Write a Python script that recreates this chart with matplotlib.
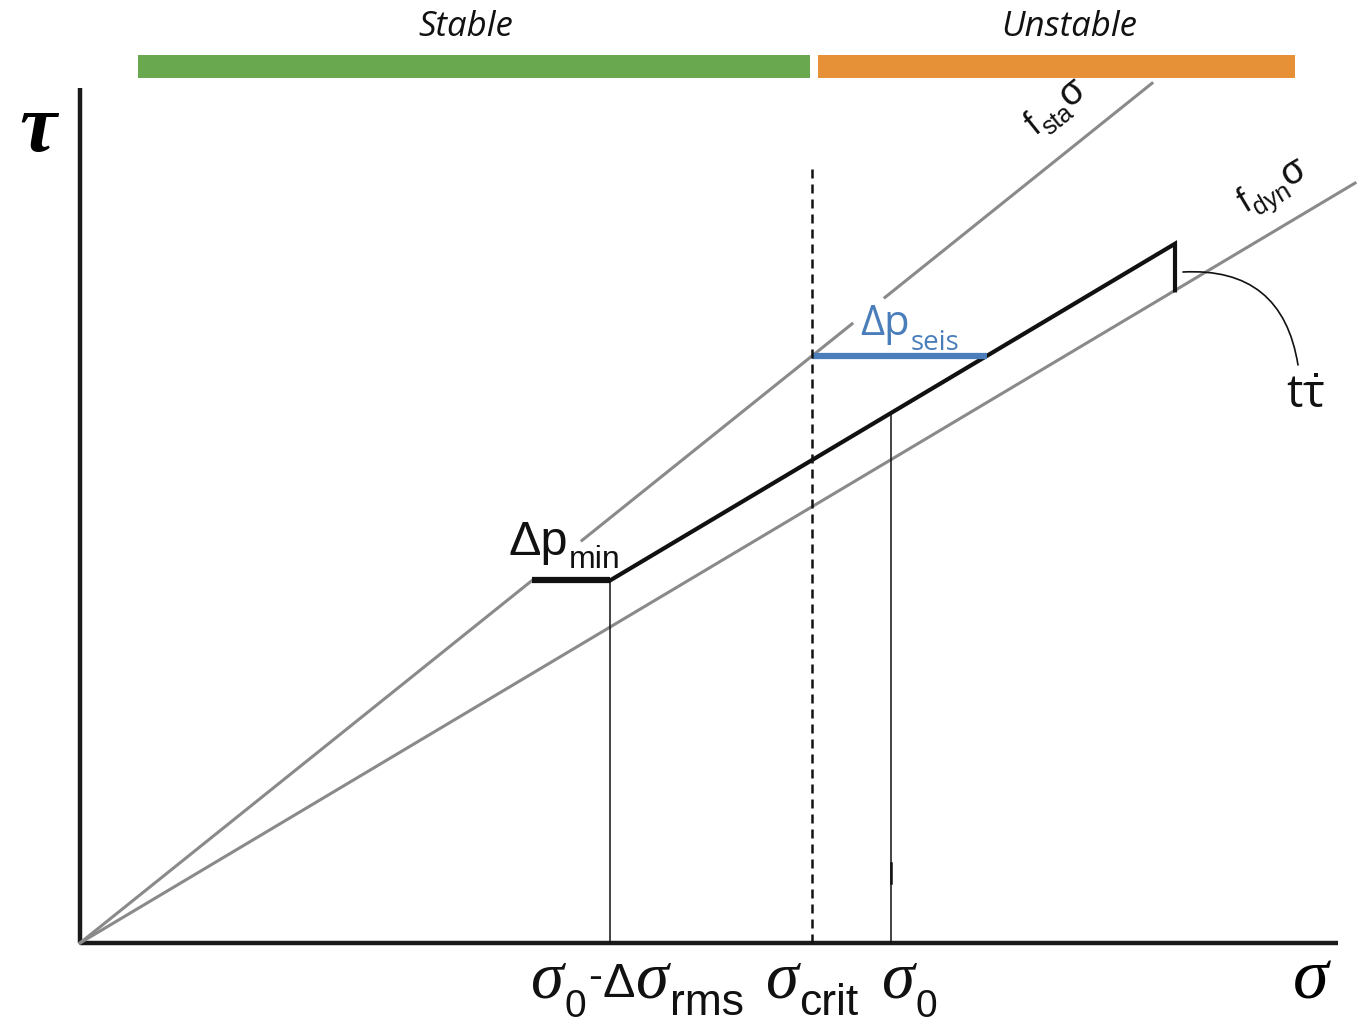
import numpy as np
import matplotlib
matplotlib.use("Agg")
import matplotlib.pyplot as plt
from matplotlib.transforms import offset_copy

plt.rcParams['mathtext.fontset'] = 'custom'
plt.rcParams['mathtext.rm'] = 'Liberation Sans'
plt.rcParams['mathtext.it'] = 'Liberation Serif:italic'
plt.rcParams['mathtext.sf'] = 'Open Sans'

# friction coefficients (slopes of the two failure envelopes)
f_sta = 0.802
f_dyn = 0.596

# stress values (arbitrary units)
sigma_0 = 8.11
d_sigma_rms = 2.81
sigma_crit = 7.32
tau_0 = 5.30          # shear stress on the loading path at sigma_0
sigma_end = 10.95     # end of the loading path

# visible pieces of the static envelope (gaps leave room for labels)
sta_pieces = [(0.0, 4.52), (5.02, 7.72), (8.05, 10.72)]
dyn_end = 12.75

# stability bands along the top
band_names = ['Stable', 'Unstable']
band_starts = [0.58, 7.38]
band_ends = [7.30, 12.15]
band_label_x = [3.86, 9.89]
band_colors = ['#6aa84f', '#e69138']


def loading(s):
    return tau_0 + f_dyn * (s - sigma_0)


fig = plt.figure(figsize=(13.63, 10.24), dpi=100)
ax = fig.add_axes([0, 0, 1, 1])
ax.set_xlim(-0.80, 12.83)
ax.set_ylim(-0.81, 9.43)
ax.axis('off')
renderer = fig.canvas.get_renderer()

SANS = dict(family='Liberation Sans')
OPEN = dict(family='Open Sans')
SIG = {}


def chain(x, y, pieces, rotation=0, color='#111111'):
    """Write text pieces one after another on a (possibly rotated) baseline.
    Each piece is (text, size, rise_px, kern_px, props)."""
    th = np.radians(rotation)
    c, s = np.cos(th), np.sin(th)
    adv = 0.0
    for txt, size, rise, kern, props in pieces:
        adv += kern
        ox = adv * c - rise * s
        oy = adv * s + rise * c
        tr = offset_copy(ax.transData, fig=fig, x=ox, y=oy, units='dots')
        ax.text(x, y, txt, fontsize=size, ha='left', va='baseline', rotation=rotation,
                rotation_mode='anchor', transform=tr, color=color, **props)
        tmp = ax.text(0, 0, txt, fontsize=size, **props)
        adv += tmp.get_window_extent(renderer).width
        tmp.remove()


gray = '#8a8a8a'

# axes
ax.plot([0, 0], [0, 8.55], color='#1a1a1a', lw=3.2, solid_capstyle='butt')
ax.plot([0, 12.58], [0, 0], color='#1a1a1a', lw=3.2, solid_capstyle='butt')

# failure envelopes
for a, b in sta_pieces:
    ax.plot([a, b], [f_sta * a, f_sta * b], color=gray, lw=2.2)
ax.plot([0, dyn_end], [0, f_dyn * dyn_end], color=gray, lw=2.2)

# loading path
s_low = sigma_0 - d_sigma_rms
tau_min = loading(s_low)
s_min = tau_min / f_sta
ax.plot([s_min, s_low], [tau_min, tau_min], color='#111111', lw=4.5,
        solid_capstyle='butt')
ax.plot([s_low, sigma_end, sigma_end], [tau_min, loading(sigma_end), f_dyn * sigma_end],
        color='#111111', lw=3.0, solid_joinstyle='miter')

# seismic pressure step
tau_seis = f_sta * sigma_crit
s_seis = sigma_0 + (tau_seis - tau_0) / f_dyn
ax.plot([sigma_crit, s_seis], [tau_seis, tau_seis], color='#4a7ebb', lw=4.5,
        solid_capstyle='butt')

# vertical markers
ax.plot([s_low, s_low], [0, tau_min], color='#111111', lw=1.1)
ax.plot([sigma_0, sigma_0], [0, tau_0], color='#111111', lw=1.1)
ax.plot([sigma_0, sigma_0], [0.60, 0.80], color='#111111', lw=1.8)
ax.plot([sigma_crit, sigma_crit], [0, 7.80], color='#111111', lw=1.8,
        dashes=(3.6, 2.4))

# stability bands
for name, a, b, lx, col in zip(band_names, band_starts, band_ends, band_label_x, band_colors):
    ax.fill_between([a, b], 8.65, 8.88, color=col, lw=0)
    ax.text(lx, 9.16, name, ha='center', va='center',
            fontsize=25, style='italic', family='Open Sans', color='#111111')

# axis symbols
ax.text(-0.42, 8.12, 'τ', ha='center', va='center', fontsize=60,
        family='Liberation Serif', style='italic', weight='bold')
ax.text(12.32, -0.35, r'$\sigma$', ha='center', va='center', fontsize=52)

# stress labels under the axis
chain(4.50, -0.54, [(r'$\sigma$', 48, 0, 0, SIG), ('0', 28, -20, -2, SANS),
                    ('-', 30, 8, 2, SANS), ('Δ', 35, 0, 0, SANS),
                    (r'$\sigma$', 48, 0, 0, SIG), ('rms', 32, -18, -2, SANS)])
chain(6.85, -0.54, [(r'$\sigma$', 48, 0, 0, SIG), ('crit', 32, -18, -3, SANS)])
chain(8.01, -0.54, [(r'$\sigma$', 48, 0, 0, SIG), ('0', 28, -20, -2, SANS)])

# pressure step labels
chain(4.28, 3.88, [('Δp', 35, 0, 0, SANS), ('min', 23, -13, 1, SANS)])
chain(7.80, 6.08, [('Δp', 30, 0, 0, OPEN), ('seis', 20, -15, 1, OPEN)],
      color='#4a7ebb')

# envelope labels, written along the lines
ang_sta = np.degrees(np.arctan(f_sta))
ang_dyn = np.degrees(np.arctan(f_dyn))
chain(9.55, 8.07, [('f', 25, 0, 0, SANS), ('sta', 18, -9, 1, SANS), ('σ', 27, 0, 0, SANS)],
      rotation=ang_sta)
chain(11.65, 7.30, [('f', 25, 0, 0, SANS), ('dyn', 18, -9, 1, SANS), ('σ', 27, 0, 0, SANS)],
      rotation=ang_dyn)

# stressing-rate label with a curved leader
ax.annotate('', xy=(12.18, 5.78), xytext=(11.03, 6.71),
            arrowprops=dict(arrowstyle='-', color='#111111', lw=1.2,
                            connectionstyle='arc3,rad=-0.45',
                            shrinkA=0, shrinkB=0))
ax.text(12.25, 5.47, r'$\mathsf{t}\dot{\mathsf{\tau}}$', ha='center', va='center',
        fontsize=33, color='#111111')

fig.savefig('out.png', dpi=100)
